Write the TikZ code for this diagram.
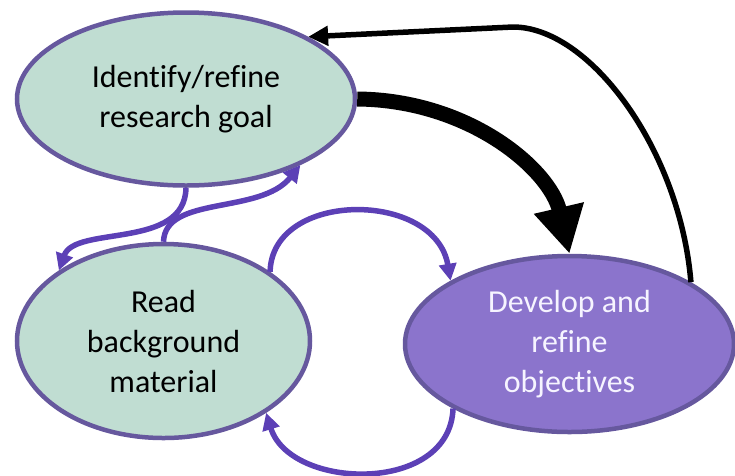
\documentclass[tikz,border=0pt]{standalone}
\usepackage{fontspec}
\setmainfont{Carlito}[Ligatures=NoCommon]
\usepackage{tikz}
\usetikzlibrary{shapes}
\usetikzlibrary{arrows.meta}
\definecolor{stagegreen}{RGB}{192,221,210}
\definecolor{stagepurple}{RGB}{139,116,204}
\definecolor{stageline}{RGB}{102,88,158}
\definecolor{feedpurple}{RGB}{92,64,182}
\definecolor{paletext}{RGB}{246,244,255}

\begin{document}
\begin{tikzpicture}[x=1pt, y=-1pt,
        stage/.style={draw=stageline, ellipse, line width=4.5pt, inner sep=0pt, align=center,
            font=\fontsize{32}{40}\selectfont},
        feed/.style={draw=feedpurple, line width=5.5pt, -{Triangle[length=17pt, width=17pt]}}]
        \useasboundingbox (0, 0) rectangle (735, 475);

        \node[stage, fill=stagegreen, minimum width=338pt, minimum height=173pt](goal) at (186, 99) {Identify/refine\\research goal};
        \node[stage, fill=stagegreen, minimum width=293pt, minimum height=194pt](reading) at (163.5, 341) {Read\\background\\material};
        \node[stage, fill=stagepurple, text=paletext, minimum width=329pt, minimum height=176pt](develop) at (569.5, 344) {Develop and\\refine\\objectives};

        % main step and the way back
        \draw[line width=15pt, -{Triangle[length=47pt, width=48pt]}] (goal.east) .. controls (470, 100) and (550, 170) .. (develop.north);
        \draw[line width=5.5pt, -{Triangle[length=20pt, width=19pt]}] (develop.27) .. controls (680, 150) and (590, 27) .. (513, 27) -- (goal.27);

        % small loops
        \draw[feed] (goal.south) .. controls (185, 250) and (75, 225) .. (reading.146);
        \draw[feed] (reading.north) .. controls (165, 195) and (260, 215) .. (goal.-30);
        \draw[feed] (reading.33) .. controls (272, 190) and (435, 190) .. (develop.152);
        \draw[feed] (develop.209) .. controls (450, 495) and (290, 490) .. (reading.-35);
\end{tikzpicture}
\end{document}
